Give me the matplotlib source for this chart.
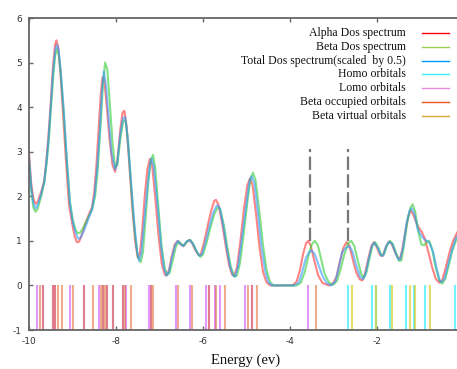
import numpy as np
import matplotlib
matplotlib.use('Agg')
import matplotlib.pyplot as plt

# alpha DOS curve
alpha_e = [-10.0, -9.95, -9.9, -9.85, -9.8, -9.72, -9.65, -9.6, -9.55, -9.5, -9.45, -9.4, -9.37, -9.33,
           -9.28, -9.22, -9.15, -9.08, -9.0, -8.95, -8.9, -8.85, -8.78, -8.7, -8.62, -8.55, -8.5, -8.45,
           -8.4, -8.35, -8.31, -8.27, -8.22, -8.15, -8.08, -8.02, -7.97, -7.9, -7.85, -7.81, -7.76, -7.7,
           -7.63, -7.56, -7.5, -7.45, -7.4, -7.34, -7.28, -7.22, -7.17, -7.1, -7.02, -6.95, -6.88, -6.84,
           -6.78, -6.72, -6.65, -6.58, -6.52, -6.45, -6.38, -6.31, -6.25, -6.18, -6.1, -6.05, -5.98, -5.9,
           -5.82, -5.74, -5.7, -5.64, -5.56, -5.48, -5.4, -5.33, -5.28, -5.22, -5.14, -5.06, -4.98, -4.92,
           -4.86, -4.78, -4.7, -4.62, -4.54, -4.45, -3.95, -3.85, -3.77, -3.7, -3.63, -3.58, -3.52, -3.44,
           -3.35, -3.25, -3.1, -3.02, -2.93, -2.85, -2.77, -2.7, -2.64, -2.56, -2.48, -2.4, -2.34, -2.28,
           -2.2, -2.13, -2.07, -2.0, -1.93, -1.87, -1.8, -1.73, -1.67, -1.6, -1.52, -1.47, -1.42, -1.35,
           -1.28, -1.23, -1.17, -1.1, -1.03, -0.97, -0.9, -0.82, -0.73, -0.65, -0.57, -0.5, -0.42, -0.33,
           -0.25, -0.15, -0.05, 0.0]
alpha_dos = [2.95, 2.3, 1.95, 1.83, 1.88, 2.1, 2.35, 2.8, 3.4, 4.1, 4.9, 5.4, 5.5, 5.35,
             4.8, 3.9, 2.8, 1.8, 1.35, 1.1, 0.97, 0.98, 1.15, 1.4, 1.6, 1.75, 2.1, 2.7,
             3.5, 4.3, 4.67, 4.6, 4.1, 3.3, 2.7, 2.55, 2.8, 3.5, 3.88, 3.92, 3.6, 2.8,
             1.8, 1.0, 0.62, 0.7, 1.2, 2.0, 2.6, 2.84, 2.7, 2.0, 1.1, 0.5, 0.25, 0.22,
             0.35, 0.65, 0.92, 1.0, 0.93, 0.88, 0.97, 1.02, 0.95, 0.8, 0.68, 0.7, 0.95, 1.3,
             1.65, 1.9, 1.92, 1.8, 1.4, 0.9, 0.45, 0.24, 0.22, 0.4, 1.0, 1.7, 2.25, 2.4,
             2.25, 1.6, 0.85, 0.3, 0.07, 0.0, 0.0, 0.08, 0.35, 0.7, 0.95, 1.0, 0.88, 0.55,
             0.22, 0.05, 0.0, 0.03, 0.2, 0.55, 0.85, 0.97, 0.9, 0.6, 0.3, 0.14, 0.11, 0.25,
             0.6, 0.88, 0.97, 0.85, 0.68, 0.66, 0.85, 0.98, 0.95, 0.78, 0.62, 0.6, 0.8, 1.2,
             1.55, 1.68, 1.6, 1.42, 1.28, 1.2, 1.05, 0.75, 0.4, 0.15, 0.06, 0.12, 0.4, 0.75,
             1.0, 1.2, 1.35, 1.4]

# beta DOS curve
beta_e = [-10.0, -9.95, -9.9, -9.85, -9.8, -9.72, -9.65, -9.6, -9.55, -9.5, -9.45, -9.4, -9.36, -9.32,
          -9.27, -9.2, -9.13, -9.06, -9.0, -8.93, -8.88, -8.83, -8.75, -8.65, -8.55, -8.48, -8.42, -8.36,
          -8.3, -8.25, -8.2, -8.15, -8.08, -8.02, -7.97, -7.9, -7.83, -7.78, -7.72, -7.65, -7.57, -7.5,
          -7.43, -7.38, -7.32, -7.25, -7.2, -7.15, -7.1, -7.02, -6.95, -6.88, -6.82, -6.77, -6.7, -6.62,
          -6.55, -6.49, -6.43, -6.36, -6.29, -6.22, -6.14, -6.06, -6.0, -5.92, -5.83, -5.74, -5.66, -5.6,
          -5.52, -5.44, -5.36, -5.28, -5.22, -5.15, -5.06, -4.97, -4.9, -4.85, -4.79, -4.71, -4.62, -4.54,
          -4.46, -4.38, -3.85, -3.75, -3.66, -3.58, -3.5, -3.43, -3.36, -3.28, -3.2, -3.1, -3.0, -2.92,
          -2.84, -2.75, -2.66, -2.59, -2.52, -2.44, -2.36, -2.3, -2.24, -2.17, -2.1, -2.04, -1.97, -1.9,
          -1.84, -1.77, -1.7, -1.63, -1.56, -1.49, -1.44, -1.38, -1.3, -1.23, -1.18, -1.12, -1.05, -0.98,
          -0.92, -0.85, -0.8, -0.73, -0.65, -0.57, -0.5, -0.43, -0.35, -0.27, -0.18, -0.08, 0.0]
beta_dos = [2.8, 2.15, 1.75, 1.65, 1.72, 2.0, 2.3, 2.7, 3.2, 3.9, 4.6, 5.15, 5.3, 5.2,
            4.75, 3.85, 2.8, 1.9, 1.5, 1.25, 1.17, 1.18, 1.3, 1.5, 1.7, 2.0, 2.6, 3.5,
            4.5, 5.0, 4.85, 4.2, 3.2, 2.65, 2.7, 3.3, 3.7, 3.7, 3.2, 2.2, 1.2, 0.65,
            0.52, 0.75, 1.5, 2.4, 2.8, 2.93, 2.65, 1.7, 0.85, 0.38, 0.24, 0.28, 0.55, 0.88,
            0.98, 0.92, 0.9, 1.0, 1.02, 0.92, 0.75, 0.64, 0.7, 0.95, 1.3, 1.6, 1.75, 1.7,
            1.35, 0.85, 0.42, 0.2, 0.22, 0.5, 1.2, 1.95, 2.42, 2.53, 2.35, 1.7, 0.9, 0.35,
            0.08, 0.0, 0.0, 0.06, 0.3, 0.65, 0.92, 1.0, 0.9, 0.58, 0.25, 0.06, 0.02, 0.1,
            0.35, 0.7, 0.95, 1.0, 0.88, 0.55, 0.25, 0.17, 0.3, 0.62, 0.9, 0.97, 0.85, 0.68,
            0.7, 0.9, 1.0, 0.92, 0.72, 0.55, 0.56, 0.9, 1.45, 1.75, 1.82, 1.65, 1.2, 0.92,
            0.9, 0.98, 1.0, 0.8, 0.4, 0.12, 0.04, 0.15, 0.45, 0.78, 1.02, 1.2, 1.3]

# total DOS (scaled by 0.5)
total_e = [-10.0, -9.95, -9.9, -9.85, -9.8, -9.72, -9.65, -9.6, -9.55, -9.5, -9.45, -9.4, -9.36, -9.32,
           -9.27, -9.2, -9.13, -9.06, -9.0, -8.93, -8.87, -8.82, -8.74, -8.65, -8.55, -8.49, -8.43, -8.37,
           -8.32, -8.28, -8.23, -8.17, -8.1, -8.02, -7.97, -7.9, -7.84, -7.79, -7.74, -7.67, -7.59, -7.52,
           -7.47, -7.42, -7.36, -7.28, -7.22, -7.18, -7.13, -7.05, -6.97, -6.9, -6.84, -6.78, -6.72, -6.64,
           -6.58, -6.51, -6.46, -6.38, -6.3, -6.23, -6.15, -6.08, -6.02, -5.95, -5.86, -5.77, -5.68, -5.62,
           -5.54, -5.46, -5.38, -5.31, -5.26, -5.19, -5.1, -5.0, -4.93, -4.88, -4.82, -4.74, -4.66, -4.57,
           -4.5, -4.42, -3.9, -3.8, -3.72, -3.64, -3.56, -3.5, -3.43, -3.34, -3.25, -3.15, -3.05, -2.96,
           -2.88, -2.8, -2.71, -2.63, -2.56, -2.48, -2.39, -2.32, -2.26, -2.19, -2.12, -2.06, -1.99, -1.9,
           -1.85, -1.79, -1.72, -1.65, -1.58, -1.51, -1.47, -1.4, -1.32, -1.25, -1.2, -1.14, -1.06, -0.97,
           -0.9, -0.85, -0.79, -0.71, -0.63, -0.56, -0.52, -0.45, -0.37, -0.28, -0.19, -0.08, 0.0]
total_dos = [2.9, 2.2, 1.85, 1.73, 1.8, 2.05, 2.32, 2.75, 3.3, 4.0, 4.75, 5.25, 5.4, 5.3,
             4.8, 3.9, 2.8, 1.85, 1.45, 1.18, 1.05, 1.06, 1.22, 1.45, 1.72, 2.05, 2.65, 3.5,
             4.4, 4.8, 4.5, 3.75, 2.95, 2.6, 2.75, 3.4, 3.75, 3.78, 3.4, 2.5, 1.5, 0.8,
             0.55, 0.72, 1.35, 2.2, 2.7, 2.85, 2.65, 1.85, 0.95, 0.4, 0.22, 0.3, 0.6, 0.9,
             1.0, 0.92, 0.88, 0.98, 1.02, 0.93, 0.77, 0.66, 0.7, 0.95, 1.3, 1.62, 1.8, 1.75,
             1.38, 0.88, 0.43, 0.22, 0.2, 0.45, 1.1, 1.85, 2.35, 2.45, 2.3, 1.65, 0.88, 0.32,
             0.08, 0.0, 0.0, 0.06, 0.3, 0.6, 0.75, 0.78, 0.7, 0.45, 0.2, 0.05, 0.0, 0.08,
             0.4, 0.75, 0.85, 0.88, 0.75, 0.45, 0.2, 0.14, 0.27, 0.6, 0.88, 0.96, 0.85, 0.66,
             0.68, 0.88, 0.98, 0.93, 0.75, 0.58, 0.58, 0.85, 1.4, 1.68, 1.73, 1.6, 1.25, 1.1,
             1.02, 1.0, 0.95, 0.75, 0.38, 0.12, 0.07, 0.15, 0.45, 0.78, 1.05, 1.25, 1.35]

# orbital energies (sticks at the bottom)
homo_orbitals = [-2.67, -2.11, -2.03, -1.71, -1.33, -1.15, -0.90, -0.21]
lomo_orbitals = [-9.82, -9.67, -9.45, -9.41, -9.06, -8.74, -8.39, -8.30, -8.21, -8.07, -7.84, -7.76,
                 -7.25, -7.19, -6.62, -6.30, -5.93, -5.86, -5.73, -5.61, -5.03, -4.87, -3.58]
beta_occupied = [-9.75, -9.67, -9.45, -9.41, -9.33, -9.25, -9.00, -8.74, -8.54, -8.34, -8.30, -8.25,
                 -8.21, -8.07, -7.84, -7.80, -7.66, -7.19, -7.14, -6.57, -6.25, -5.86, -5.69, -5.50,
                 -4.96, -4.87, -4.76, -3.40]
beta_virtual = [-2.58, -2.03, -1.65, -1.25, -1.13, -0.78]

# HOMO / LUMO markers
gap_lines = [-3.53, -2.67]

labels = ['Alpha Dos spectrum', 'Beta Dos spectrum', 'Total Dos spectrum(scaled  by 0.5)',
          'Homo orbitals', 'Lomo orbitals', 'Beta occupied orbitals', 'Beta virtual orbitals']
key_colors = ['#ff0000', '#99cc55', '#0099ff', '#33eeff', '#ee88dd', '#ee5522', '#ddaa33']

plt.rcParams['axes.unicode_minus'] = False

fig = plt.figure(figsize=(4.57, 3.69), dpi=100)
ax = fig.add_axes([29 / 457, 39 / 369, 435 / 457, 312 / 369])

ax.vlines(lomo_orbitals, -1, 0, color='#cc44ff', lw=1.5, alpha=0.55)
ax.vlines(beta_occupied, -1, 0, color='#e06a30', lw=1.5, alpha=0.55)
ax.vlines(homo_orbitals, -1, 0, color='#33eeff', lw=1.5, alpha=0.7)
ax.vlines(beta_virtual, -1, 0, color='#ddcc33', lw=1.5, alpha=0.7)

ax.vlines(gap_lines, 1.0, 3.05, color='#777777', lw=1.6, linestyles=(0, (6, 2)))

ax.plot(alpha_e, alpha_dos, color='#ff3333', lw=1.5, alpha=0.6)
ax.plot(beta_e, beta_dos, color='#33cc33', lw=1.5, alpha=0.6)
ax.plot(total_e, total_dos, color='#3399ff', lw=1.5, alpha=0.6)

ax.set_xlim(-10, 0)
ax.set_ylim(-1, 6)
ax.set_xticks([-10, -8, -6, -4, -2])
ax.set_yticks([-1, 0, 1, 2, 3, 4, 5, 6])
ax.tick_params(direction='in', length=3, width=1, color='#666666', labelsize=6.5,
               labelcolor='#333333', top=True, pad=5)
for side in ['left', 'bottom', 'top']:
    ax.spines[side].set_color('#666666')
    ax.spines[side].set_linewidth(1.3)
ax.spines['right'].set_visible(False)

# key, text right aligned, sample line on the right
rows = [0.951, 0.908, 0.862, 0.82, 0.775, 0.732, 0.687]
for lab, col, yy in zip(labels, key_colors, rows):
    ax.text(0.866, yy, lab, transform=ax.transAxes, ha='right', va='center',
            family='Liberation Serif', fontsize=8.5, color='#111111')
    ax.plot([0.904, 0.965], [yy, yy], transform=ax.transAxes, color=col, lw=1.0)

fig.text(246 / 457, 9 / 369, 'Energy (ev)', ha='center', va='center',
         family='Liberation Serif', fontsize=10.5, color='#111111')

plt.savefig('out.png', dpi=100)
